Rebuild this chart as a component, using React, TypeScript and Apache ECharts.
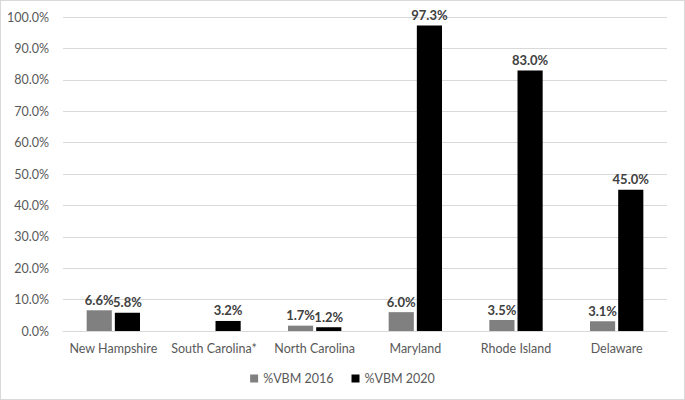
import React, { useEffect, useRef } from "react";
import * as echarts from "echarts";

const categories = ["New Hampshire", "South Carolina*", "North Carolina", "Maryland", "Rhode Island", "Delaware"];
const vbm2016: (number | null)[] = [6.6, null, 1.7, 6.0, 3.5, 3.1];
const vbm2020: number[] = [5.8, 3.2, 1.2, 97.3, 83.0, 45.0];
const seriesNames = ["%VBM 2016", "%VBM 2020"];

export default function App() {
  const ref = useRef<HTMLDivElement>(null);
  useEffect(() => {
    document.body.style.margin = "0";
    const chart = echarts.init(ref.current!, null, { renderer: "svg" });
    const font = "Lato, 'Open Sans', sans-serif";
    const label = {
      show: true,
      position: "top" as const,
      distance: 4,
      formatter: (p: any) => (p.value == null ? "" : Number(p.value).toFixed(1) + "%"),
      color: "#404040",
      fontWeight: "bold" as const,
      fontSize: 13,
      fontFamily: font,
    };
    chart.setOption({
      animation: false,
      textStyle: { fontFamily: font },
      grid: { left: 62, right: 17, top: 16, bottom: 68 },
      legend: {
        bottom: 9,
        left: "center",
        itemWidth: 8,
        itemHeight: 8,
        itemGap: 18,
        icon: "rect",
        textStyle: { color: "#595959", fontSize: 12.5, fontFamily: font },
        data: seriesNames,
      },
      xAxis: {
        type: "category",
        data: categories,
        axisLine: { lineStyle: { color: "#d9d9d9" } },
        axisTick: { show: false },
        axisLabel: { color: "#595959", fontSize: 12.5, margin: 11, fontFamily: font, interval: 0 },
      },
      yAxis: {
        type: "value",
        min: 0,
        max: 100,
        interval: 10,
        axisLine: { show: false },
        axisTick: { show: false },
        splitLine: { lineStyle: { color: "#d9d9d9" } },
        axisLabel: {
          color: "#595959",
          fontSize: 12.5,
          margin: 14,
          fontFamily: font,
          formatter: (v: number) => v.toFixed(1) + "%",
        },
      },
      series: [
        {
          name: seriesNames[0],
          type: "bar",
          data: vbm2016,
          barWidth: "25%",
          barGap: "12%",
          itemStyle: { color: "#808080" },
          label,
        },
        {
          name: seriesNames[1],
          type: "bar",
          data: vbm2020,
          barWidth: "25%",
          itemStyle: { color: "#000000" },
          label,
        },
      ],
    });
    return () => chart.dispose();
  }, []);
  return (
    <div
      ref={ref}
      style={{
        position: "absolute",
        left: 0,
        top: 0,
        width: 685,
        height: 400,
        boxSizing: "border-box",
        border: "1px solid #d9d9d9",
      }}
    />
  );
}
